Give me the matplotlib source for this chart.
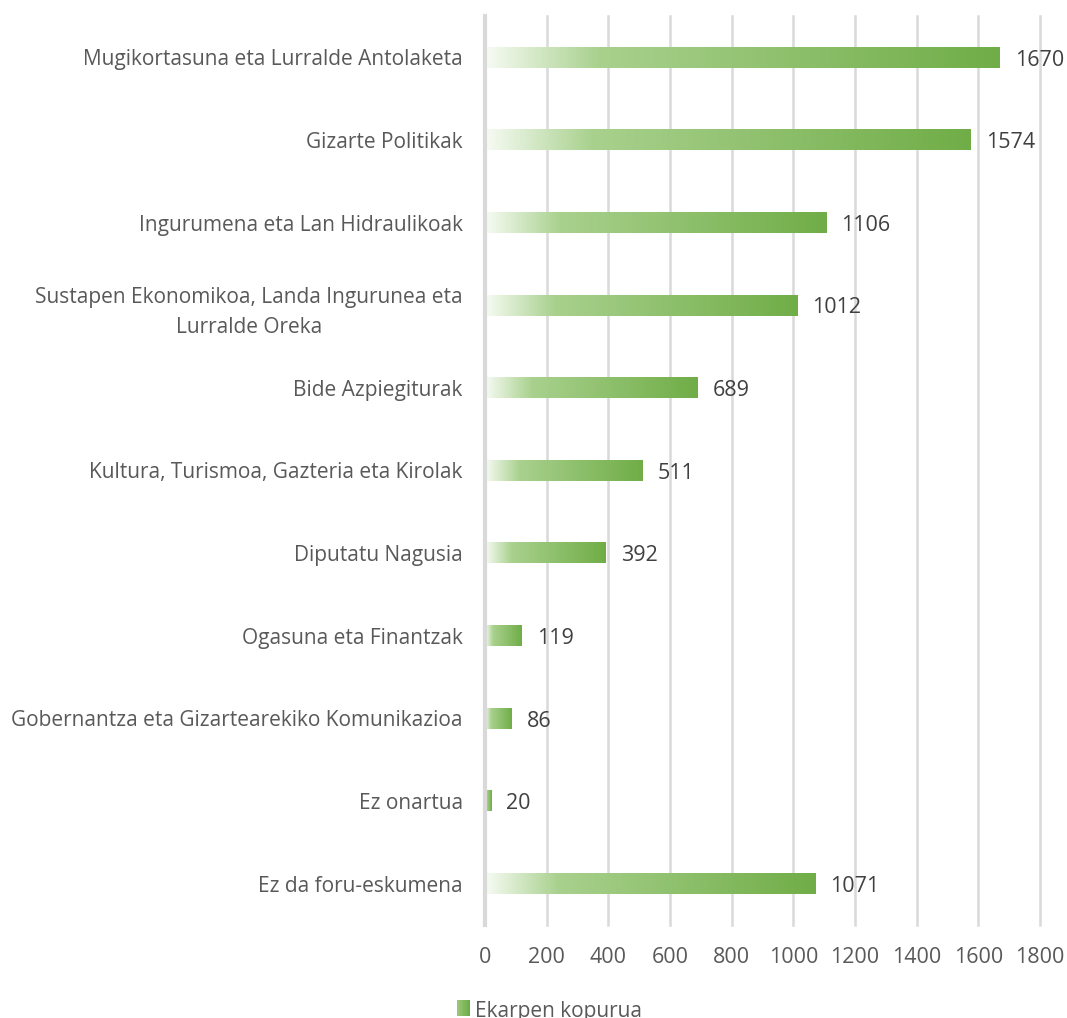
import matplotlib
matplotlib.use("Agg")
import matplotlib.pyplot as plt
import numpy as np
from matplotlib.colors import LinearSegmentedColormap
from matplotlib.patches import Rectangle
from matplotlib.legend_handler import HandlerBase

categories = [
    "Mugikortasuna eta Lurralde Antolaketa",
    "Gizarte Politikak",
    "Ingurumena eta Lan Hidraulikoak",
    "Sustapen Ekonomikoa, Landa Ingurunea eta\nLurralde Oreka",
    "Bide Azpiegiturak",
    "Kultura, Turismoa, Gazteria eta Kirolak",
    "Diputatu Nagusia",
    "Ogasuna eta Finantzak",
    "Gobernantza eta Gizartearekiko Komunikazioa",
    "Ez onartua",
    "Ez da foru-eskumena",
]
values = [1670, 1574, 1106, 1012, 689, 511, 392, 119, 86, 20, 1071]
x_ticks = [0, 200, 400, 600, 800, 1000, 1200, 1400, 1600, 1800]
series_name = "Ekarpen kopurua"

TEXT = "#595959"
GRID = "#D9D9D9"
plt.rcParams["font.family"] = ["Open Sans", "DejaVu Sans"]

cmap = LinearSegmentedColormap.from_list(
    "bar_grad", [(0.0, "#F7FBF4"), (0.22, "#A9D18E"), (1.0, "#70AD47")]
)
grad = np.linspace(0, 1, 256).reshape(1, -1)


class GradientHandler(HandlerBase):
    def create_artists(self, legend, orig, xd, yd, width, height, fontsize, trans):
        n = 8
        arts = []
        for i in range(n):
            c = cmap(0.45 + 0.55 * i / (n - 1))
            r = Rectangle((xd + width * i / n, yd), width / n + 0.3, height,
                          facecolor=c, edgecolor="none", transform=trans)
            arts.append(r)
        return arts


fig = plt.figure(figsize=(10.67, 10.18), dpi=100)
ax = fig.add_axes([0.4545, 0.0914, 0.5202, 0.8929])

n = len(categories)
ypos = np.arange(n)
bar_h = 0.25

for y, v in zip(ypos, values):
    ax.imshow(grad, cmap=cmap, aspect="auto", interpolation="bilinear",
              extent=[0, v, y + bar_h / 2, y - bar_h / 2], zorder=2)
    ax.annotate(str(v), xy=(v, y), xytext=(11, -2), textcoords="offset points",
                va="center", ha="left", fontsize=15.5, color="#404040")

ax.set_xlim(0, 1800)
ax.set_ylim(n - 0.5, -0.5)
ax.set_xticks(x_ticks)
ax.set_yticks(ypos)
ax.set_yticklabels(categories, fontsize=15, color=TEXT)
ax.tick_params(axis="y", length=0, pad=16)
ax.tick_params(axis="x", length=0, pad=16, labelsize=15.5, labelcolor=TEXT)
for lab in ax.get_yticklabels():
    lab.set_horizontalalignment("right")
    lab.set_multialignment("center")
    lab.set_linespacing(1.55)

ax.grid(axis="x", color=GRID, linewidth=1.8, zorder=1)
for gl in ax.get_xgridlines():
    gl.set_clip_on(False)
ax.set_axisbelow(True)
for side in ["top", "right", "bottom"]:
    ax.spines[side].set_visible(False)
ax.spines["left"].set_color(GRID)
ax.spines["left"].set_linewidth(3)
ax.spines["left"].set_zorder(3)

proxy = Rectangle((0, 0), 1, 1)
fig.legend([proxy], [series_name], handler_map={Rectangle: GradientHandler()},
           loc="lower center", bbox_to_anchor=(0.515, -0.022), frameon=False,
           fontsize=15, labelcolor=TEXT, handlelength=0.6, handleheight=0.8,
           handletextpad=0.25)

fig.savefig("out.png", dpi=100)
